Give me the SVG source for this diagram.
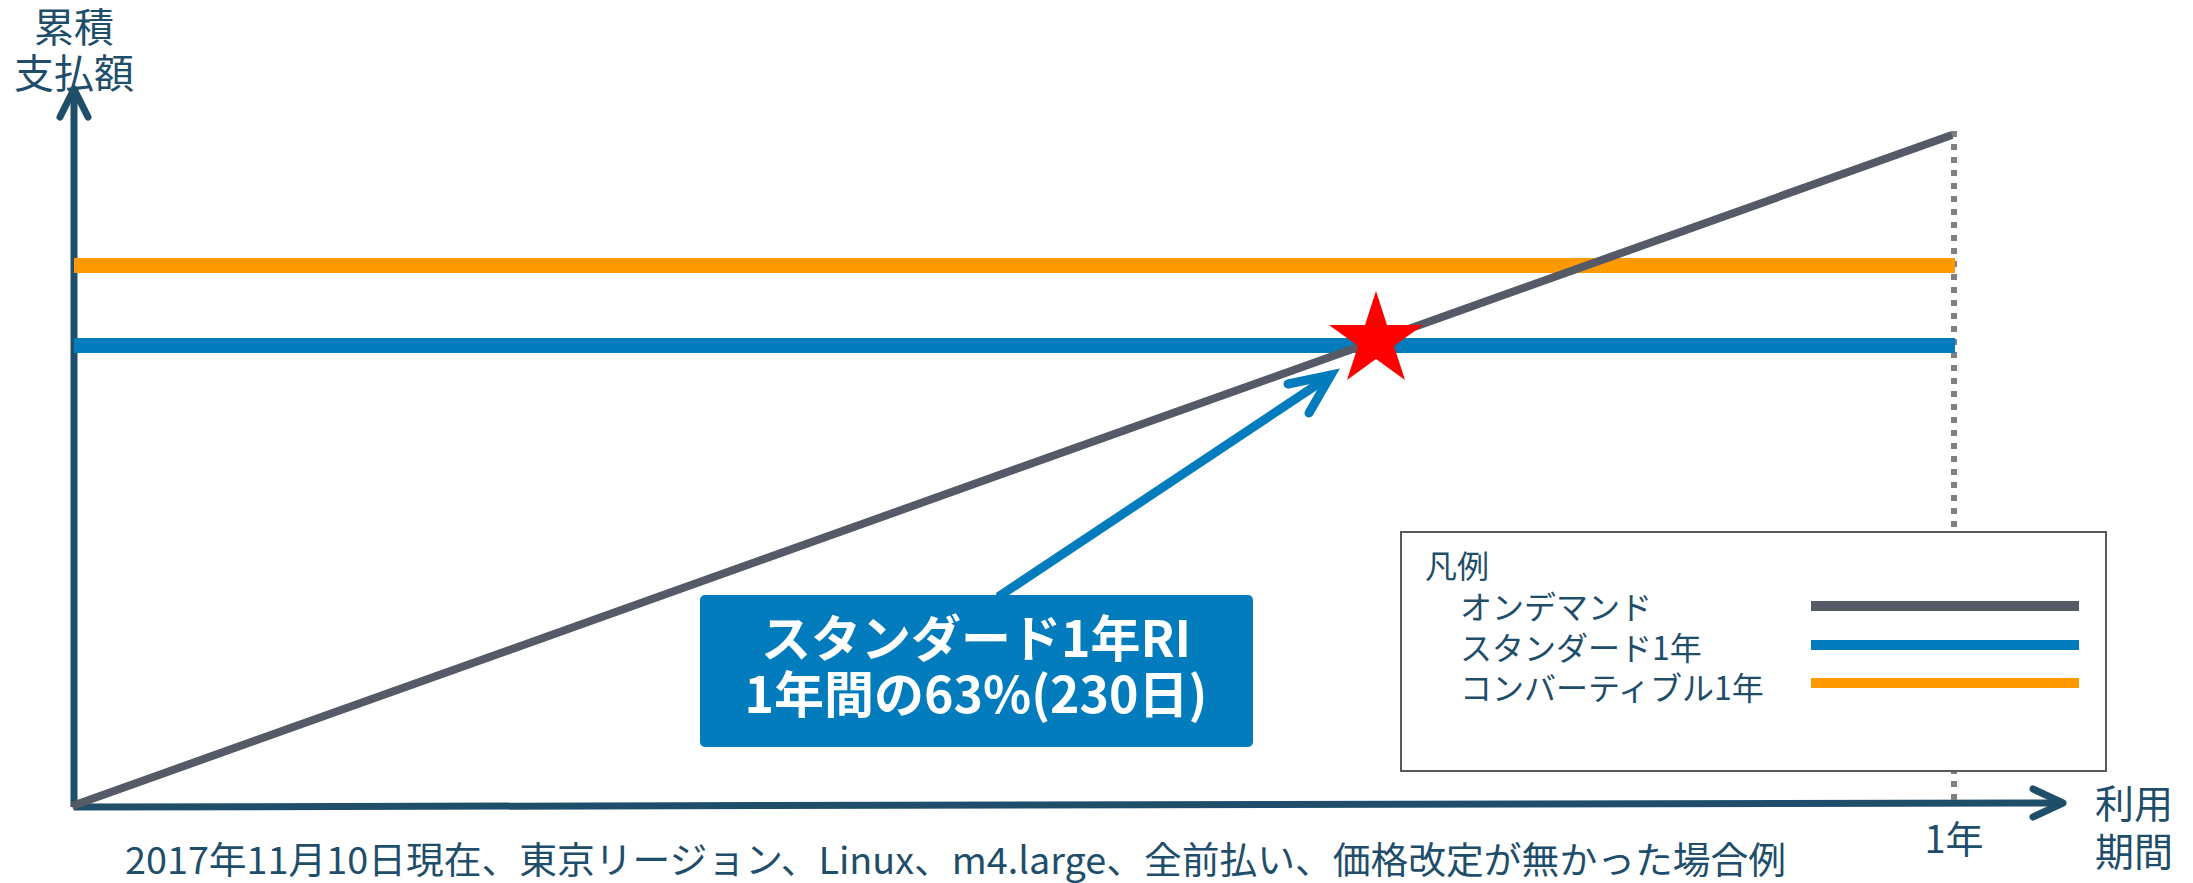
<svg xmlns="http://www.w3.org/2000/svg" width="2193" height="883" viewBox="0 0 2193 883">
<style>
.t{font-family:"Noto Sans CJK JP","Noto Sans",sans-serif;fill:#1f4e6b}
.w{font-family:"Noto Sans CJK JP","Noto Sans",sans-serif;fill:#ffffff;font-weight:bold}
.axis{stroke:#1f4e6b;stroke-width:7;fill:none;stroke-linecap:round;stroke-linejoin:round}
</style>
<rect width="2193" height="883" fill="#ffffff"/>
<g id="axes">
<line class="axis" x1="74" y1="807" x2="74" y2="92" style="stroke-linecap:butt"/>
<polyline class="axis" points="60,117 74,89 88,117"/>
<line class="axis" x1="74" y1="807" x2="2060" y2="803" style="stroke-linecap:butt"/>
<polyline class="axis" points="2033,789 2063,803 2033,817"/>
<text class="t" x="74" y="42" font-size="40" text-anchor="middle">累積</text>
<text class="t" x="74" y="88" font-size="40" text-anchor="middle">支払額</text>
<text class="t" x="2095" y="818" font-size="39">利用</text>
<text class="t" x="2095" y="866" font-size="39">期間</text>
<text class="t" x="1954" y="853" font-size="38" text-anchor="middle">1年</text>
</g>
<g id="series">
<line x1="1954" y1="131" x2="1954" y2="805" stroke="#808080" stroke-width="6" stroke-dasharray="6 7"/>
<line x1="74" y1="265.5" x2="1955" y2="265.5" stroke="#ff9900" stroke-width="15"/>
<line x1="74" y1="345.5" x2="1955" y2="345.5" stroke="#027cbc" stroke-width="15"/>
<line x1="72" y1="806" x2="1952" y2="135" stroke="#555b66" stroke-width="8"/>
</g>
<g id="star">
<polygon fill="#ff0000" points="1376,291 1387,325 1423,325 1394,346 1405,380 1376,359 1347,380 1358,346 1329,325 1365,325"/>
</g>
<g id="connectors">
<line x1="998" y1="597" x2="1330" y2="376" stroke="#027cbc" stroke-width="9"/>
<polyline points="1288,384 1331,375 1309,413" fill="none" stroke="#027cbc" stroke-width="9" stroke-linecap="round" stroke-linejoin="miter"/>
</g>
<g id="callout">
<rect x="700" y="595" width="553" height="152" rx="5" fill="#027cbc"/>
<text class="w" x="976" y="657" font-size="50" text-anchor="middle">スタンダード1年RI</text>
<text class="w" x="976" y="713" font-size="50" text-anchor="middle">1年間の63%(230日)</text>
</g>
<g id="legend">
<rect x="1401" y="532" width="705" height="239" fill="#ffffff" stroke="#595959" stroke-width="2"/>
<text class="t" x="1425" y="578" font-size="32">凡例</text>
<text class="t" x="1460" y="619" font-size="32">オンデマンド</text>
<text class="t" x="1460" y="660" font-size="32">スタンダード1年</text>
<text class="t" x="1460" y="700" font-size="32">コンバーティブル1年</text>
<line x1="1811" y1="606" x2="2079" y2="606" stroke="#555b66" stroke-width="10"/>
<line x1="1811" y1="645" x2="2079" y2="645" stroke="#027cbc" stroke-width="10"/>
<line x1="1811" y1="683" x2="2079" y2="683" stroke="#ff9900" stroke-width="10"/>
</g>
<g id="note">
<text class="t" x="125" y="874" font-size="37" textLength="1661" lengthAdjust="spacingAndGlyphs">2017年11月10日現在、東京リージョン、Linux、m4.large、全前払い、価格改定が無かった場合例</text>
</g>
</svg>
